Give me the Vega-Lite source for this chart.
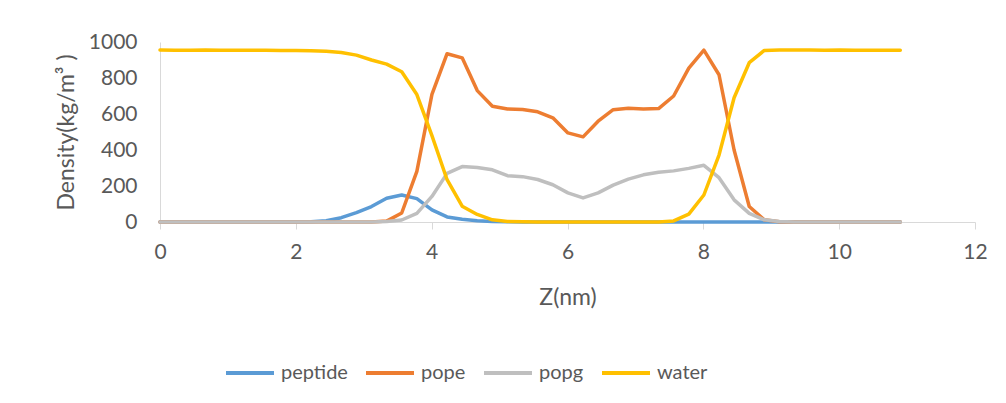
{
  "$schema": "https://vega.github.io/schema/vega-lite/v6.json",
  "width": 815,
  "height": 180,
  "autosize": {"type": "none"},
  "padding": {"left": 160, "top": 42, "right": 31, "bottom": 181},
  "background": "white",
  "config": {
    "view": {"stroke": null},
    "font": "Lato",
    "axis": {"labelFont": "Lato", "titleFont": "Lato", "labelColor": "#595959", "titleColor": "#595959", "grid": false, "domainColor": "#D9D9D9", "tickColor": "#D9D9D9", "labelFontSize": 21, "titleFontSize": 23, "titleFontWeight": "normal"},
    "legend": {"labelFont": "Lato", "labelColor": "#595959", "labelFontSize": 20, "gridAlign": "each"}
  },
  "data": {"values": [
    {"z":0,"s":"peptide","d":0},{"z":0.222,"s":"peptide","d":0},{"z":0.445,"s":"peptide","d":0},{"z":0.667,"s":"peptide","d":0},{"z":0.89,"s":"peptide","d":0},{"z":1.112,"s":"peptide","d":0},{"z":1.335,"s":"peptide","d":0},{"z":1.557,"s":"peptide","d":0},{"z":1.78,"s":"peptide","d":0},{"z":2.002,"s":"peptide","d":0},{"z":2.224,"s":"peptide","d":2},{"z":2.447,"s":"peptide","d":7},{"z":2.669,"s":"peptide","d":24},{"z":2.892,"s":"peptide","d":52},{"z":3.114,"s":"peptide","d":86},{"z":3.337,"s":"peptide","d":132},{"z":3.559,"s":"peptide","d":150},{"z":3.782,"s":"peptide","d":130},{"z":4.004,"s":"peptide","d":67},{"z":4.227,"s":"peptide","d":28},{"z":4.449,"s":"peptide","d":15},{"z":4.671,"s":"peptide","d":7},{"z":4.894,"s":"peptide","d":3},{"z":5.116,"s":"peptide","d":1},{"z":5.339,"s":"peptide","d":0},{"z":5.561,"s":"peptide","d":0},{"z":5.784,"s":"peptide","d":0},{"z":6.006,"s":"peptide","d":0},{"z":6.229,"s":"peptide","d":0},{"z":6.451,"s":"peptide","d":0},{"z":6.673,"s":"peptide","d":0},{"z":6.896,"s":"peptide","d":0},{"z":7.118,"s":"peptide","d":0},{"z":7.341,"s":"peptide","d":0},{"z":7.563,"s":"peptide","d":0},{"z":7.786,"s":"peptide","d":0},{"z":8.008,"s":"peptide","d":0},{"z":8.231,"s":"peptide","d":0},{"z":8.453,"s":"peptide","d":0},{"z":8.676,"s":"peptide","d":0},{"z":8.898,"s":"peptide","d":0},{"z":9.12,"s":"peptide","d":0},{"z":9.343,"s":"peptide","d":0},{"z":9.565,"s":"peptide","d":0},{"z":9.788,"s":"peptide","d":0},{"z":10.01,"s":"peptide","d":0},{"z":10.233,"s":"peptide","d":0},{"z":10.455,"s":"peptide","d":0},{"z":10.678,"s":"peptide","d":0},{"z":10.9,"s":"peptide","d":0},
    {"z":0,"s":"pope","d":0},{"z":0.222,"s":"pope","d":0},{"z":0.445,"s":"pope","d":0},{"z":0.667,"s":"pope","d":0},{"z":0.89,"s":"pope","d":0},{"z":1.112,"s":"pope","d":0},{"z":1.335,"s":"pope","d":0},{"z":1.557,"s":"pope","d":0},{"z":1.78,"s":"pope","d":0},{"z":2.002,"s":"pope","d":0},{"z":2.224,"s":"pope","d":0},{"z":2.447,"s":"pope","d":0},{"z":2.669,"s":"pope","d":0},{"z":2.892,"s":"pope","d":0},{"z":3.114,"s":"pope","d":0},{"z":3.337,"s":"pope","d":5},{"z":3.559,"s":"pope","d":50},{"z":3.782,"s":"pope","d":281},{"z":4.004,"s":"pope","d":709},{"z":4.227,"s":"pope","d":935},{"z":4.449,"s":"pope","d":912},{"z":4.671,"s":"pope","d":730},{"z":4.894,"s":"pope","d":643},{"z":5.116,"s":"pope","d":628},{"z":5.339,"s":"pope","d":625},{"z":5.561,"s":"pope","d":612},{"z":5.784,"s":"pope","d":579},{"z":6.006,"s":"pope","d":495},{"z":6.229,"s":"pope","d":473},{"z":6.451,"s":"pope","d":560},{"z":6.673,"s":"pope","d":624},{"z":6.896,"s":"pope","d":632},{"z":7.118,"s":"pope","d":628},{"z":7.341,"s":"pope","d":630},{"z":7.563,"s":"pope","d":700},{"z":7.786,"s":"pope","d":855},{"z":8.008,"s":"pope","d":955},{"z":8.231,"s":"pope","d":818},{"z":8.453,"s":"pope","d":400},{"z":8.676,"s":"pope","d":86},{"z":8.898,"s":"pope","d":12},{"z":9.12,"s":"pope","d":1},{"z":9.343,"s":"pope","d":0},{"z":9.565,"s":"pope","d":0},{"z":9.788,"s":"pope","d":0},{"z":10.01,"s":"pope","d":0},{"z":10.233,"s":"pope","d":0},{"z":10.455,"s":"pope","d":0},{"z":10.678,"s":"pope","d":0},{"z":10.9,"s":"pope","d":0},
    {"z":0,"s":"popg","d":0},{"z":0.222,"s":"popg","d":0},{"z":0.445,"s":"popg","d":0},{"z":0.667,"s":"popg","d":0},{"z":0.89,"s":"popg","d":0},{"z":1.112,"s":"popg","d":0},{"z":1.335,"s":"popg","d":0},{"z":1.557,"s":"popg","d":0},{"z":1.78,"s":"popg","d":0},{"z":2.002,"s":"popg","d":0},{"z":2.224,"s":"popg","d":0},{"z":2.447,"s":"popg","d":0},{"z":2.669,"s":"popg","d":0},{"z":2.892,"s":"popg","d":0},{"z":3.114,"s":"popg","d":0},{"z":3.337,"s":"popg","d":3},{"z":3.559,"s":"popg","d":11},{"z":3.782,"s":"popg","d":48},{"z":4.004,"s":"popg","d":142},{"z":4.227,"s":"popg","d":270},{"z":4.449,"s":"popg","d":308},{"z":4.671,"s":"popg","d":303},{"z":4.894,"s":"popg","d":290},{"z":5.116,"s":"popg","d":257},{"z":5.339,"s":"popg","d":252},{"z":5.561,"s":"popg","d":236},{"z":5.784,"s":"popg","d":207},{"z":6.006,"s":"popg","d":162},{"z":6.229,"s":"popg","d":134},{"z":6.451,"s":"popg","d":162},{"z":6.673,"s":"popg","d":205},{"z":6.896,"s":"popg","d":238},{"z":7.118,"s":"popg","d":262},{"z":7.341,"s":"popg","d":276},{"z":7.563,"s":"popg","d":284},{"z":7.786,"s":"popg","d":298},{"z":8.008,"s":"popg","d":315},{"z":8.231,"s":"popg","d":246},{"z":8.453,"s":"popg","d":123},{"z":8.676,"s":"popg","d":48},{"z":8.898,"s":"popg","d":12},{"z":9.12,"s":"popg","d":3},{"z":9.343,"s":"popg","d":0},{"z":9.565,"s":"popg","d":0},{"z":9.788,"s":"popg","d":0},{"z":10.01,"s":"popg","d":0},{"z":10.233,"s":"popg","d":0},{"z":10.455,"s":"popg","d":0},{"z":10.678,"s":"popg","d":0},{"z":10.9,"s":"popg","d":0},
    {"z":0,"s":"water","d":955},{"z":0.222,"s":"water","d":954},{"z":0.445,"s":"water","d":954},{"z":0.667,"s":"water","d":955},{"z":0.89,"s":"water","d":954},{"z":1.112,"s":"water","d":954},{"z":1.335,"s":"water","d":954},{"z":1.557,"s":"water","d":954},{"z":1.78,"s":"water","d":953},{"z":2.002,"s":"water","d":953},{"z":2.224,"s":"water","d":952},{"z":2.447,"s":"water","d":948},{"z":2.669,"s":"water","d":942},{"z":2.892,"s":"water","d":927},{"z":3.114,"s":"water","d":900},{"z":3.337,"s":"water","d":877},{"z":3.559,"s":"water","d":835},{"z":3.782,"s":"water","d":708},{"z":4.004,"s":"water","d":480},{"z":4.227,"s":"water","d":235},{"z":4.449,"s":"water","d":88},{"z":4.671,"s":"water","d":42},{"z":4.894,"s":"water","d":12},{"z":5.116,"s":"water","d":3},{"z":5.339,"s":"water","d":1},{"z":5.561,"s":"water","d":0},{"z":5.784,"s":"water","d":0},{"z":6.006,"s":"water","d":0},{"z":6.229,"s":"water","d":0},{"z":6.451,"s":"water","d":0},{"z":6.673,"s":"water","d":0},{"z":6.896,"s":"water","d":0},{"z":7.118,"s":"water","d":0},{"z":7.341,"s":"water","d":0},{"z":7.563,"s":"water","d":6},{"z":7.786,"s":"water","d":44},{"z":8.008,"s":"water","d":150},{"z":8.231,"s":"water","d":372},{"z":8.453,"s":"water","d":690},{"z":8.676,"s":"water","d":885},{"z":8.898,"s":"water","d":953},{"z":9.12,"s":"water","d":956},{"z":9.343,"s":"water","d":955},{"z":9.565,"s":"water","d":955},{"z":9.788,"s":"water","d":954},{"z":10.01,"s":"water","d":955},{"z":10.233,"s":"water","d":954},{"z":10.455,"s":"water","d":954},{"z":10.678,"s":"water","d":954},{"z":10.9,"s":"water","d":954}
  ]},
  "mark": {"type": "line", "strokeWidth": 3.5, "strokeJoin": "round", "strokeCap": "round"},
  "encoding": {
    "x": {"field": "z", "type": "quantitative", "title": "Z(nm)",
      "scale": {"domain": [0, 12], "nice": false, "zero": false},
      "axis": {"values": [0, 2, 4, 6, 8, 10, 12], "tickSize": 7, "labelPadding": 12, "titlePadding": 24, "labelFlush": false}},
    "y": {"field": "d", "type": "quantitative", "title": "Density(kg/m³ )",
      "scale": {"domain": [0, 1000], "nice": false},
      "axis": {"values": [0, 200, 400, 600, 800, 1000], "format": "d", "ticks": false, "tickSize": 0, "labelPadding": 23, "titlePadding": 10, "labelFlush": false}},
    "color": {"field": "s", "type": "nominal",
      "scale": {"domain": ["peptide", "pope", "popg", "water"], "range": ["#5B9BD5", "#ED7D31", "#BFBFBF", "#FFC000"]},
      "legend": {"title": null, "orient": "none", "legendX": 64, "legendY": 305, "direction": "horizontal", "symbolType": "stroke", "symbolSize": 2304, "symbolStrokeWidth": 4, "labelOffset": 5, "columnPadding": 10}}
  }
}
